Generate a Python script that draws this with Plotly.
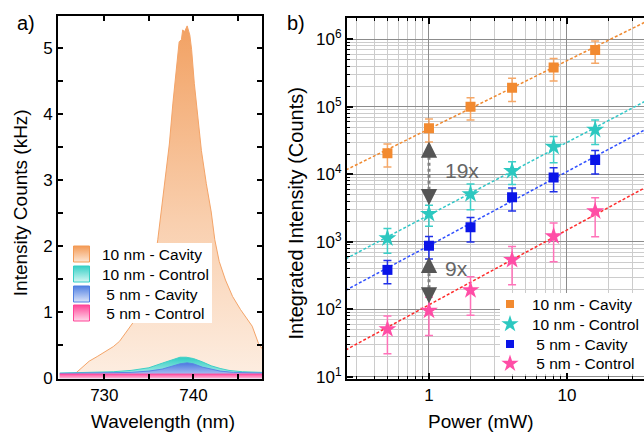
import numpy as np
import plotly.graph_objects as go

# ---------------- Panel a: spectra ----------------
cav10_wl = [725.0, 726.0, 726.8, 727.5, 728.3, 729.2, 730.2, 731.0, 731.7, 732.6, 733.2, 733.5,
            734.3, 735.0, 735.5, 736.0, 736.4, 736.8, 737.3, 737.7, 738.1, 738.4, 738.65, 738.8,
            739.0, 739.3, 739.6, 739.8, 740.1, 740.5, 740.9, 741.45, 742.0, 742.4, 742.9, 743.6,
            744.4, 745.3, 746.0, 746.6, 747.3, 747.7]
cav10_int = [0.05, 0.06, 0.08, 0.17, 0.26, 0.33, 0.41, 0.48, 0.56, 0.74, 0.84, 0.94,
             1.17, 1.42, 1.64, 2.10, 2.52, 2.95, 3.55, 4.17, 4.72, 5.10, 5.13, 5.28,
             5.25, 5.34, 5.20, 4.98, 4.47, 3.97, 3.45, 2.95, 2.52, 2.10, 1.77, 1.49,
             1.24, 1.04, 0.90, 0.79, 0.53, 0.45]

ctl10_wl = [725.0, 728.0, 731.0, 733.0, 735.0, 736.5, 737.5, 738.5, 739.2, 740.0, 741.0,
            742.0, 743.0, 744.0, 745.5, 747.7]
ctl10_int = [0.08, 0.09, 0.10, 0.12, 0.16, 0.23, 0.28, 0.32, 0.32, 0.30, 0.25,
             0.19, 0.15, 0.12, 0.10, 0.09]

cav5_wl = [725.0, 730.0, 733.0, 735.0, 736.5, 737.5, 738.5, 739.3, 740.0, 741.0, 742.0,
           743.0, 744.5, 747.7]
cav5_int = [0.075, 0.08, 0.09, 0.11, 0.14, 0.18, 0.22, 0.235, 0.22, 0.17, 0.135,
            0.11, 0.09, 0.08]

ctl5_wl = [725.0, 730.0, 735.0, 739.0, 743.0, 747.7]
ctl5_int = [0.065, 0.065, 0.07, 0.075, 0.07, 0.065]

series_names = ["10 nm - Cavity", "10 nm - Control", "\u00a05 nm - Cavity", "\u00a05 nm - Control"]

# ---------------- Panel b: power series ----------------
power = [0.5, 1, 2, 4, 8, 16]
cav10_counts = [2.05e4, 4.8e4, 1.0e5, 1.92e5, 3.8e5, 6.9e5]
cav10_err = [0.77e4, 1.8e4, 3.6e4, 7.2e4, 1.4e5, 2.5e5]
ctl10_counts = [1.13e3, 2.6e3, 5.1e3, 1.12e4, 2.56e4, 4.57e4]
ctl10_err = [450, 900, 2.1e3, 4.1e3, 1.07e4, 1.8e4]
cav5_counts = [385, 880, 1.65e3, 4.57e3, 9.0e3, 1.63e4]
cav5_err = [145, 320, 650, 1.7e3, 3.5e3, 6.2e3]
ctl5_counts = [51, 96, 193, 542, 1.21e3, 2.84e3]
ctl5_err = [29, 55, 111, 310, 700, 1.65e3]

# power-law fits  I = A * P^k
fit_prefactor = [4.7e4, 2.5e3, 8.8e2, 1.17e2]
fit_exponent = [1.01, 1.075, 1.096, 1.108]
fit_power = [0.2, 50.0]

ratio_labels = ["19x", "9x"]
arrow_low = [3.5e3, 122]
arrow_high = [3.07e4, 600]

FONT = "Arial"
fig = go.Figure()

# ---- spectra fills ----
spec_styles = [
    dict(wl=cav10_wl, y=cav10_int, line="#f4a468", cs=[[0, "#fdeee2"], [0.45, "#f9cfae"], [1, "#f2a264"]], stop=5.3, top="#f39a55", low="#fde6d4"),
    dict(wl=ctl10_wl, y=ctl10_int, line="#3fd0c6", cs=[[0, "#c8f3ef"], [1, "#2fcdc3"]], stop=0.32, top="#35cfc5", low="#d6f7f4"),
    dict(wl=cav5_wl, y=cav5_int, line="#5a86e4", cs=[[0, "#c9d6f6"], [1, "#4a78e0"]], stop=0.235, top="#4f7fe2", low="#dbe4f9"),
    dict(wl=ctl5_wl, y=ctl5_int, line="#ff4f9e", cs=[[0, "#ffb9da"], [1, "#ff3b93"]], stop=0.075, top="#ff4598", low="#ffd9ea"),
]
for st, name in zip(spec_styles, series_names):
    fig.add_trace(go.Scatter(
        x=st["wl"], y=st["y"], mode="lines", fill="tozeroy", name=name,
        line=dict(color=st["line"], width=1),
        fillgradient=dict(type="vertical", colorscale=st["cs"], start=0, stop=st["stop"]),
        showlegend=False, xaxis="x", yaxis="y", hoverinfo="skip"))

# ---- power series ----
series = [
    dict(y=cav10_counts, e=cav10_err, sym="square", size=10, lsize=8, c="#f28a30", ec="#f5a868", fc="#f08a30"),
    dict(y=ctl10_counts, e=ctl10_err, sym="star", size=13.5, lsize=13, c="#2cc8c0", ec="#3dcfc8", fc="#30c8c8"),
    dict(y=cav5_counts, e=cav5_err, sym="square", size=10, lsize=8, c="#0a14e8", ec="#2030e8", fc="#3050ff"),
    dict(y=ctl5_counts, e=ctl5_err, sym="star", size=13.5, lsize=13, c="#ff4da6", ec="#ff72b9", fc="#ff2a2a"),
]
for s, A, k in zip(series, fit_prefactor, fit_exponent):
    fx = np.array(fit_power)
    fig.add_trace(go.Scatter(x=fx, y=A * fx ** k, mode="lines",
                             line=dict(color=s["fc"], width=1.5, dash="3px,2px"),
                             showlegend=False, xaxis="x2", yaxis="y2", hoverinfo="skip"))
for s, name in zip(series, series_names):
    fig.add_trace(go.Scatter(
        x=power, y=s["y"], mode="markers", name=name, showlegend=False,
        marker=dict(symbol=s["sym"], size=s["size"], color=s["c"], line=dict(width=0)),
        error_y=dict(type="data", array=s["e"], color=s["ec"], thickness=1.5, width=4),
        xaxis="x2", yaxis="y2"))

# ratio arrows: dotted shafts
for lo, hi in zip(arrow_low, arrow_high):
    fig.add_trace(go.Scatter(x=[1, 1], y=[lo * 1.12, hi / 1.12], mode="lines",
                             line=dict(color="#808080", width=3, dash="dot"),
                             showlegend=False, xaxis="x2", yaxis="y2", hoverinfo="skip"))

# ---- hand-built legends on pixel-unit overlay axes ----
legA_box = dict(x0=68, x1=212, y0=243, y1=323)
legA_rows = [254, 274, 294, 313]
legA_sym_x, legA_text_x = 81.5, 100
legB_box = dict(x0=500, x1=644, y0=293, y1=374)
legB_rows = [304, 324, 344, 363.6]
legB_sym_x, legB_text_x = 510, 530

for box, ax, ay in [(legA_box, "x3", "y3"), (legB_box, "x4", "y4")]:
    fig.add_trace(go.Scatter(
        x=[box["x0"], box["x1"], box["x1"], box["x0"], box["x0"]],
        y=[box["y0"], box["y0"], box["y1"], box["y1"], box["y0"]],
        mode="lines", fill="toself", fillcolor="white", line=dict(width=0, color="white"),
        showlegend=False, hoverinfo="skip", xaxis=ax, yaxis=ay))
fig.add_trace(go.Scatter(
    x=[legA_sym_x] * 4, y=legA_rows, mode="markers", showlegend=False, hoverinfo="skip",
    marker=dict(symbol="square", size=16, color=[st["top"] for st in spec_styles],
                gradient=dict(type="vertical", color=[st["low"] for st in spec_styles]),
                line=dict(color=[st["top"] for st in spec_styles], width=1)),
    xaxis="x3", yaxis="y3"))
fig.add_trace(go.Scatter(
    x=[legB_sym_x] * 4, y=legB_rows, mode="markers", showlegend=False, hoverinfo="skip",
    marker=dict(symbol=[s["sym"] for s in series], size=[s["lsize"] for s in series],
                color=[s["c"] for s in series], opacity=1, line=dict(width=0)),
    xaxis="x4", yaxis="y4"))

annotations = []
leg_font = dict(family=FONT, size=15.5, color="black")
for name, ry in zip(series_names, legA_rows):
    annotations.append(dict(x=legA_text_x, y=ry, xref="x3", yref="y3", text=name, showarrow=False,
                            xanchor="left", yanchor="middle", font=leg_font))
for name, ry in zip(series_names, legB_rows):
    annotations.append(dict(x=legB_text_x, y=ry, xref="x4", yref="y4", text=name, showarrow=False,
                            xanchor="left", yanchor="middle", font=leg_font))

for lo, hi in zip(arrow_low, arrow_high):
    annotations.append(dict(x=0, y=np.log10(hi), xref="x2", yref="y2", ax=0, ay=12, text="",
                            showarrow=True, arrowhead=2, arrowsize=1.3, arrowwidth=2.5, arrowcolor="#555555"))
    annotations.append(dict(x=0, y=np.log10(lo), xref="x2", yref="y2", ax=0, ay=-12, text="",
                            showarrow=True, arrowhead=2, arrowsize=1.3, arrowwidth=2.5, arrowcolor="#555555"))
for lab, ly in zip(ratio_labels, [4.059, 2.601]):
    annotations.append(dict(x=0.101, y=ly, xref="x2", yref="y2", text=lab, showarrow=False,
                            xanchor="left", yanchor="middle", font=dict(family=FONT, size=21, color="#666666")))

# axis titles and panel labels
W0, H0 = 58, 379
PW, PH = 586, 363
def px(xp):
    return (xp - W0) / PW
def py(yp):
    return (H0 - yp) / PH
title_font = dict(family=FONT, size=19, color="black")
centered = dict(xref="paper", yref="paper", showarrow=False, xanchor="center", yanchor="middle")
annotations += [
    dict(x=px(163), y=py(421.7), text="Wavelength (nm)", font=title_font, **centered),
    dict(x=px(481), y=py(421.7), text="Power (mW)", font=title_font, **centered),
    dict(x=px(20.7), y=py(202.5), text="Intensity Counts (kHz)", textangle=-90, font=title_font, **centered),
    dict(x=px(295), y=py(213.5), text="Integrated Intensity (Counts)", textangle=-90,
         font=dict(family=FONT, size=20, color="black"), **centered),
    dict(x=px(26), y=py(23), text="a)", font=dict(family=FONT, size=20, color="black"), **centered),
    dict(x=px(295.5), y=py(23), text="b)", font=dict(family=FONT, size=20, color="black"), **centered),
]

tickfont = dict(family=FONT, size=17, color="black")
axis_common = dict(showline=True, linewidth=2, linecolor="black", ticks="inside", tickwidth=2,
                   tickcolor="black", zeroline=False, tickfont=tickfont)

minor_y = [m * 10 ** e for e in range(0, 7) for m in range(2, 10)]
minor_x = [m * 10 ** e for e in range(-1, 2) for m in range(2, 10)]

fig.update_layout(
    width=644, height=433,
    margin=dict(l=W0, r=0, t=16, b=54),
    paper_bgcolor="white", plot_bgcolor="white",
    font=dict(family=FONT, color="black"),
    showlegend=False,
    xaxis=dict(domain=[0, px(262)], range=[724.8, 747.7], anchor="y",
               tickvals=[730, 735, 740, 745], ticktext=["730", "", "740", ""],
               ticklen=5, mirror="ticks", showgrid=False, **axis_common),
    yaxis=dict(domain=[0, 1], range=[-0.01, 5.49], anchor="x",
               tickvals=[0, 0.5, 1, 1.5, 2, 2.5, 3, 3.5, 4, 4.5, 5],
               ticktext=["0", "", "1", "", "2", "", "3", "", "4", "", "5"],
               ticklen=5, mirror="ticks", showgrid=False, **axis_common),
    xaxis2=dict(domain=[px(347), 1], type="log", range=[-0.594, 1.558], anchor="y2",
                tickvals=[1, 10], ticktext=["1", "10"], ticklen=6, mirror="ticks",
                showgrid=True, gridcolor="#8c8c8c", gridwidth=1,
                minor=dict(tickvals=minor_x, ticks="inside", ticklen=3, tickwidth=1, tickcolor="black",
                           showgrid=True, gridcolor="#cccccc", gridwidth=1),
                **axis_common),
    yaxis2=dict(domain=[0, py(18.3)], type="log", range=[0.97, 6.31], anchor="x2",
                tickvals=[1e1, 1e2, 1e3, 1e4, 1e5, 1e6],
                ticktext=["10<sup>1</sup>", "10<sup>2</sup>", "10<sup>3</sup>", "10<sup>4</sup>", "10<sup>5</sup>", "10<sup>6</sup>"],
                ticklen=6, showgrid=True, gridcolor="#8c8c8c", gridwidth=1,
                minor=dict(tickvals=minor_y, ticks="inside", ticklen=3, tickwidth=1, tickcolor="black",
                           showgrid=True, gridcolor="#cccccc", gridwidth=1),
                **axis_common),
    xaxis3=dict(overlaying="x", range=[58, 262], visible=False, anchor="y3"),
    yaxis3=dict(overlaying="y", range=[379, 16], visible=False, anchor="x3"),
    xaxis4=dict(overlaying="x2", range=[347, 644], visible=False, anchor="y4"),
    yaxis4=dict(overlaying="y2", range=[379, 18.3], visible=False, anchor="x4"),
    annotations=annotations,
)

fig.write_html("out.html", config={"displayModeBar": False},
               post_script="document.body.style.margin='0';document.body.style.overflow='hidden';")
